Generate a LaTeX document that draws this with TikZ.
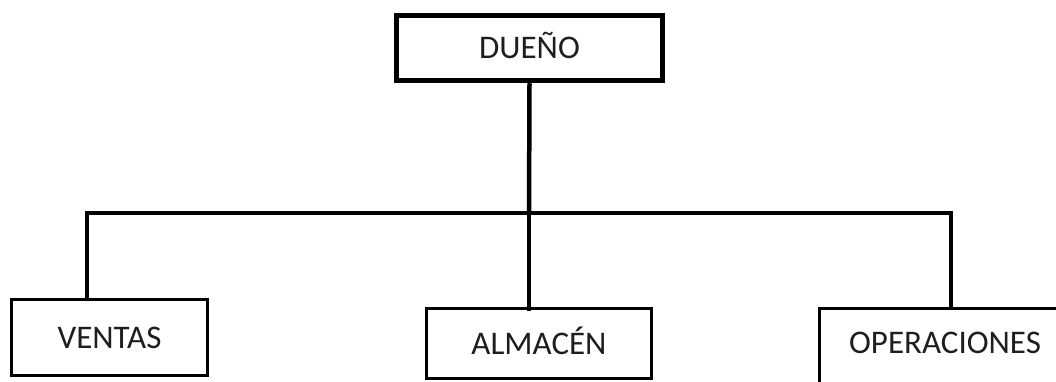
\documentclass[tikz,border=0pt]{standalone}
\usepackage{fontspec}
\setmainfont{Carlito}
\definecolor{txt}{HTML}{1E1E1E}
\begin{document}
\begin{tikzpicture}[x=1pt,y=-1pt,
  box/.style={draw=black,fill=white,line width=3pt,inner sep=0pt,
    font=\fontsize{33}{33}\selectfont,text=txt,text height=21pt,text depth=0pt},
  link/.style={draw=black,line width=4.5pt}]
\useasboundingbox (0,0) rectangle (1056,382);
\node[box,line width=5.5pt,minimum width=266pt,minimum height=65pt] (dueno) at (529.5,48) {DUEÑO};
\node[box,minimum width=196pt,minimum height=76pt] (ventas) at (109.5,337.5) {VENTAS};
\node[box,minimum width=225pt,minimum height=70pt] (almacen) at (539,343.5) {ALMACÉN};
\node[box,minimum width=251pt,minimum height=84pt,text depth=16pt] (operaciones) at (945,350.5) {OPERACIONES};
\coordinate (hl) at (87,213);
\coordinate (hm) at (529,213);
\coordinate (hr) at (951,213);
\draw[link,line cap=rect] (hl) -- (hr);
\draw[link] (dueno.south) -- (hm);
\draw[link] (hl) -- (hl |- ventas.north);
\draw[link,line width=4pt] (hm) -- ([yshift=-4pt]hm |- almacen.north);
\draw[link] (hr) -- (hr |- operaciones.north);
\end{tikzpicture}
\end{document}
